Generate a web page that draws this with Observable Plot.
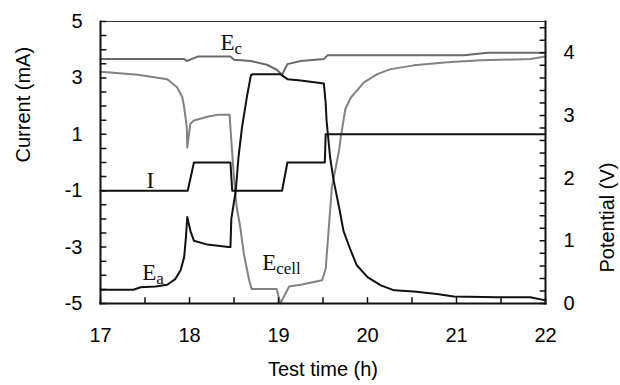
<!DOCTYPE html>
<html>
<head>
<meta charset="utf-8">
<script src="https://cdn.jsdelivr.net/npm/d3@7"></script>
<script src="https://cdn.jsdelivr.net/npm/@observablehq/plot@0.6"></script>
<style>
  html, body { margin: 0; padding: 0; background: #fff; }
  #chart { width: 620px; height: 385px; }
</style>
</head>
<body>
<div id="chart"></div>
<script>
// ---- data (time in h; current in mA; potentials in V) ----
const iTime    = [17, 17.98, 18.05, 18.46, 18.48, 19.04, 19.10, 19.52, 19.53, 22];
const iCurrent = [-1, -1, 0, 0, -1, -1, 0, 0, 1, 1];

const ecTime = [17.00, 17.94, 17.97, 18.09, 18.46, 18.50, 18.69, 18.87, 18.98, 19.04, 19.10, 19.25, 19.51, 19.55, 21.08, 21.35, 22.00];
const ecVolt = [3.90, 3.90, 3.87, 3.94, 3.94, 3.89, 3.87, 3.81, 3.73, 3.65, 3.82, 3.87, 3.90, 3.96, 3.96, 4.00, 4.00];

const ecellTime = [17.00, 17.42, 17.75, 17.86, 17.92, 17.94, 17.97, 17.975, 18.01, 18.05, 18.20, 18.31, 18.45, 18.47, 18.50, 18.53, 18.57, 18.61, 18.67, 18.70, 18.98, 19.02, 19.12, 19.25, 19.49, 19.53, 19.60, 19.68, 19.70, 19.75, 19.81, 19.96, 20.11, 20.26, 20.52, 20.90, 21.27, 21.83, 22.00];
const ecellVolt = [3.70, 3.65, 3.58, 3.45, 3.29, 3.13, 2.81, 2.49, 2.87, 2.92, 2.98, 3.01, 3.01, 2.60, 2.00, 1.54, 1.22, 0.80, 0.37, 0.23, 0.23, 0.00, 0.27, 0.30, 0.37, 0.55, 1.86, 2.44, 2.65, 3.10, 3.28, 3.53, 3.66, 3.74, 3.80, 3.85, 3.88, 3.90, 3.94];

const eaTime = [17.00, 17.37, 17.45, 17.62, 17.75, 17.84, 17.90, 17.94, 17.96, 17.975, 18.01, 18.05, 18.20, 18.44, 18.46, 18.47, 18.52, 18.55, 18.59, 18.65, 18.69, 18.71, 19.02, 19.10, 19.25, 19.51, 19.53, 19.54, 19.58, 19.62, 19.68, 19.73, 19.81, 19.88, 20.00, 20.15, 20.30, 20.52, 20.78, 20.97, 21.46, 21.83, 22.00];
const eaVolt = [0.22, 0.22, 0.26, 0.27, 0.30, 0.39, 0.53, 0.74, 1.06, 1.38, 1.16, 1.00, 0.94, 0.90, 0.90, 1.35, 1.80, 2.33, 2.81, 3.34, 3.64, 3.66, 3.66, 3.58, 3.56, 3.51, 3.20, 2.92, 2.33, 1.96, 1.54, 1.16, 0.85, 0.61, 0.42, 0.29, 0.21, 0.19, 0.15, 0.11, 0.10, 0.10, 0.05];

const xTickLabels = [17, 18, 19, 20, 21, 22];
const leftTickLabels = [-5, -3, -1, 1, 3, 5];
const rightTickLabels = [0, 1, 2, 3, 4];

const labelMain = ["E", "I", "E", "E"];
const labelSub  = ["c", "", "a", "cell"];
const labelTime = [18.348, 17.517, 17.468, 18.817];
const labelCurr = [4.25, -0.64, -3.90, -3.55];

// ---- scale helpers ----
const yDomain = [-5, 5];
const xDomain = [17, 22];
const vMax = 4.5;
const toLeft = v => yDomain[0] + v * (yDomain[1] - yDomain[0]) / vMax;
const toRight = y => (y - yDomain[0]) * vMax / (yDomain[1] - yDomain[0]);

const zip = (ts, vs, f = v => v) => ts.map((t, i) => ({t, y: f(vs[i])}));
const iData = zip(iTime, iCurrent);
const ecData = zip(ecTime, ecVolt, toLeft);
const ecellData = zip(ecellTime, ecellVolt, toLeft);
const eaData = zip(eaTime, eaVolt, toLeft);
const labels = labelMain.map((m, i) => ({main: m, sub: labelSub[i], t: labelTime[i], y: labelCurr[i]}));

// frame and inward tick segments, as two-point polylines (lengths in data units)
const xTickLen = 0.2, yTickLen = 0.06;
const [x0, x1] = xDomain, [y0, y1] = yDomain;
let segId = 0;
const seg = (ax, ay, bx, by) => { const id = segId++; return [{id, t: ax, y: ay}, {id, t: bx, y: by}]; };
const frameTop = seg(x0, y1, x1, y1);
const frameThick = [...seg(x0, y0, x0, y1), ...seg(x1, y0, x1, y1), ...seg(x0, y0, x1, y0)];
const tickSegs = [
  ...d3.range(17, 22.001, 0.5).flatMap(x => seg(x, y0, x, y0 + xTickLen)),
  ...d3.range(-5, 5.001, 0.5).flatMap(y => seg(x0, y, x0 + yTickLen, y)),
  ...d3.range(0, 4.5001, 0.2).flatMap(v => seg(x1 - yTickLen, toLeft(v), x1, toLeft(v)))
];

const serif = "Liberation Serif, Times New Roman, serif";

const chart = Plot.plot({
  width: 620,
  height: 385,
  marginLeft: 100,
  marginRight: 75,
  marginTop: 21,
  marginBottom: 82,
  x: {domain: xDomain},
  y: {domain: yDomain},
  style: {fontFamily: "Liberation Sans, Arial, sans-serif", fontSize: "20px", color: "#000", background: "#fff"},
  marks: [
    // series
    Plot.line(ecData, {x: "t", y: "y", stroke: "#6a6a6a", strokeWidth: 2}),
    Plot.line(ecellData, {x: "t", y: "y", stroke: "#828282", strokeWidth: 2}),
    Plot.line(iData, {x: "t", y: "y", stroke: "#111", strokeWidth: 2}),
    Plot.line(eaData, {x: "t", y: "y", stroke: "#111", strokeWidth: 2}),
    // frame and inward ticks
    Plot.line(frameTop, {x: "t", y: "y", z: "id", stroke: "#333", strokeWidth: 1}),
    Plot.line(frameThick, {x: "t", y: "y", z: "id", stroke: "#111", strokeWidth: 2, strokeLinecap: "square"}),
    Plot.line(tickSegs, {x: "t", y: "y", z: "id", stroke: "#111", strokeWidth: 1.5}),
    // series labels
    Plot.text(labels, {x: "t", y: "y", text: "main", textAnchor: "start", fontFamily: serif, fontSize: 23, fill: "#111"}),
    Plot.text(labels, {x: "t", y: "y", text: "sub", textAnchor: "start", dx: 14, dy: 6, fontFamily: serif, fontSize: 17, fill: "#111"}),
    // tick labels
    Plot.axisX({ticks: xTickLabels, tickSize: 0, tickPadding: 24, label: null, tickFormat: d => String(d)}),
    Plot.axisY({anchor: "left", ticks: leftTickLabels, tickSize: 0, tickPadding: 18, label: null, tickFormat: d => String(d)}),
    Plot.axisY({anchor: "right", ticks: rightTickLabels.map(toLeft), tickSize: 0, tickPadding: 18, label: null,
      tickFormat: d => String(Math.round(toRight(d)))}),
    // axis titles
    Plot.text(["Current (mA)"], {frameAnchor: "left", dx: -77, rotate: -90, text: d => d, fontSize: 20, fill: "#000"}),
    Plot.text(["Potential (V)"], {frameAnchor: "right", dx: 62, rotate: -90, text: d => d, fontSize: 20, fill: "#000"}),
    Plot.text(["Test time (h)"], {frameAnchor: "bottom", dy: 72, text: d => d, fontSize: 20, fill: "#000"})
  ]
});
document.getElementById("chart").appendChild(chart);
</script>
</body>
</html>
